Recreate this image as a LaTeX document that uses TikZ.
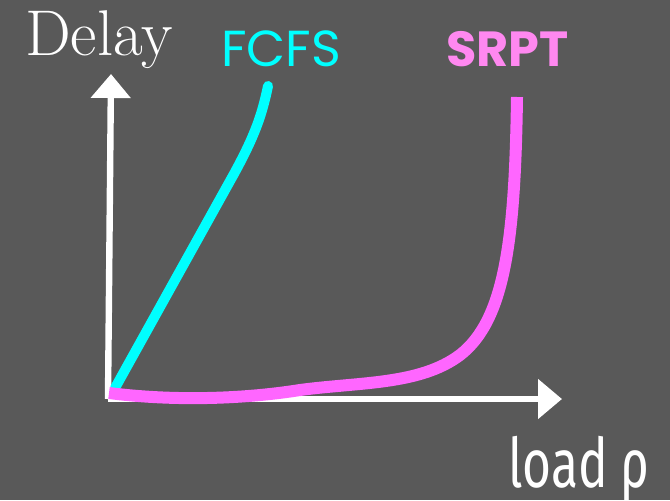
\documentclass[tikz,border=0pt]{standalone}
\usepackage{fontspec}
\newfontfamily\labfont{Poppins}
\newfontfamily\greekfont{Fira Sans}
\usetikzlibrary{arrows.meta}
\definecolor{bg}{HTML}{595959}
\definecolor{fcfs}{HTML}{00FFFF}
\definecolor{srpt}{HTML}{FF66FF}
\definecolor{srptlab}{HTML}{FF88F0}
\tikzset{
  axis/.style={white, line width=4.8pt, -{Triangle[width=29pt,length=18pt]}},
  curve/.style={line width=#1, line cap=round},
}
\begin{document}
\begin{tikzpicture}[x=0.75pt,y=-0.75pt]
\fill[bg] (0,0) rectangle (670,500);
\useasboundingbox (0,0) rectangle (670,500);
\coordinate (ytip) at (111,74);
\coordinate (xtip) at (562,399);
\draw[axis] (108,399) -- (ytip);
\draw[axis] (108,399) -- (xtip);
\coordinate (f0) at (115,388);
\coordinate (f1) at (268,86);
\draw[fcfs, curve=7.5pt] (f0) -- (235,172) .. controls (255,135) and (262,115) .. (f1);
\coordinate (s0) at (109,393);
\coordinate (s1) at (517,97);
\draw[srpt, curve=9pt, line cap=butt] (s0) .. controls (180,402) and (250,398) .. (300,390)
  .. controls (360,382) and (420,385) .. (460,355)
  .. controls (505,320) and (515,240) .. (s1);
\node[text=white, font=\fontsize{48.5}{52}\selectfont, anchor=base west, inner sep=0] (delay) at (25,55) {Delay};
\node[text=fcfs, font=\labfont\fontsize{38}{40}\selectfont, anchor=base west, inner sep=0] (fl) at (221,66) {FCFS};
\node[text=srptlab, font=\labfont\bfseries\fontsize{37}{40}\selectfont, anchor=base west, inner sep=0] (sl) at (446,66) {SRPT};
\node[text=white, font=\greekfont\fontsize{38}{40}\selectfont, anchor=base west, inner sep=0] (ll) at (508,487) {\scalebox{0.98}[1.35]{load ρ}};
\end{tikzpicture}
\end{document}
